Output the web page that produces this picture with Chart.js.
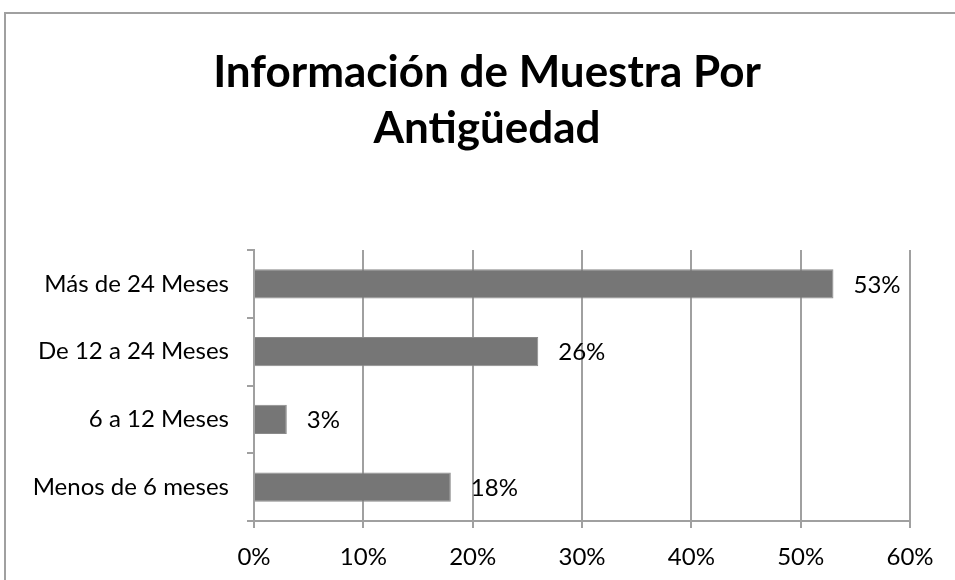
<!DOCTYPE html>
<html>
<head>
<meta charset="utf-8">
<script src="https://cdn.jsdelivr.net/npm/chart.js@4"></script>
<style>
  html, body { margin: 0; padding: 0; background: #ffffff; overflow: hidden; }
  #wrap { width: 955px; height: 580px; position: relative; }
</style>
</head>
<body>
<div id="wrap"><canvas id="c" width="955" height="580"></canvas></div>
<script>
const titleLines = ["Información de Muestra Por", "Antigüedad"];
const categories = ["Más de 24 Meses", "De 12 a 24 Meses", "6 a 12 Meses", "Menos de 6 meses"];
const values = [53, 26, 3, 18];
const axisMax = 60;
const axisStep = 10;

const FONT = "Lato, 'Open Sans', sans-serif";
const GRID = "#a0a0a0";

const frame = {
  id: 'frame',
  beforeDraw(chart) {
    const ctx = chart.ctx;
    ctx.save();
    ctx.fillStyle = '#ffffff';
    ctx.fillRect(0, 0, chart.width, chart.height);
    ctx.strokeStyle = GRID;
    ctx.lineWidth = 2;
    ctx.strokeRect(5, 13, 2000, 2000);
    ctx.restore();
  },
  afterDraw(chart) {
    const ctx = chart.ctx;
    ctx.save();
    ctx.font = "bold 44px " + FONT;
    ctx.fillStyle = '#000000';
    ctx.textAlign = 'center';
    ctx.textBaseline = 'alphabetic';
    ctx.fillText(titleLines[0], 487, 87);
    ctx.fillText(titleLines[1], 487, 143);
    ctx.restore();
  }
};

const valueLabels = {
  id: 'valueLabels',
  afterDatasetsDraw(chart) {
    const ctx = chart.ctx;
    const meta = chart.getDatasetMeta(0);
    ctx.save();
    ctx.font = "24px " + FONT;
    ctx.fillStyle = '#000000';
    ctx.textAlign = 'left';
    ctx.textBaseline = 'middle';
    meta.data.forEach((bar, i) => {
      ctx.fillText(values[i] + '%', bar.x + 20, bar.y + 1);
    });
    ctx.restore();
  }
};

new Chart(document.getElementById('c'), {
  type: 'bar',
  data: {
    labels: categories,
    datasets: [{
      data: values,
      backgroundColor: '#767676',
      borderColor: '#8a8a8a',
      borderWidth: 1,
      categoryPercentage: 1,
      barPercentage: 0.43
    }]
  },
  options: {
    indexAxis: 'y',
    responsive: false,
    animation: false,
    layout: { padding: { left: 0, right: 45, top: 250, bottom: 0 } },
    plugins: {
      legend: { display: false },
      tooltip: { enabled: false },
      title: { display: false }
    },
    scales: {
      x: {
        min: 0,
        max: axisMax,
        ticks: {
          stepSize: axisStep,
          color: '#000000',
          font: { family: FONT, size: 24 },
          padding: 15,
          callback: v => v + '%'
        },
        grid: {
          color: GRID,
          lineWidth: 2,
          tickLength: 7,
          drawOnChartArea: true
        },
        border: { color: GRID, width: 2 },
        afterFit(scale) { scale.height = 59; }
      },
      y: {
        ticks: {
          color: '#000000',
          font: { family: FONT, size: 24 },
          padding: 18
        },
        grid: {
          offset: true,
          color: GRID,
          lineWidth: 2,
          tickLength: 7,
          drawOnChartArea: false
        },
        border: { color: GRID, width: 2 },
        afterFit(scale) { scale.width = 254; }
      }
    }
  },
  plugins: [frame, valueLabels]
});
</script>
</body>
</html>
